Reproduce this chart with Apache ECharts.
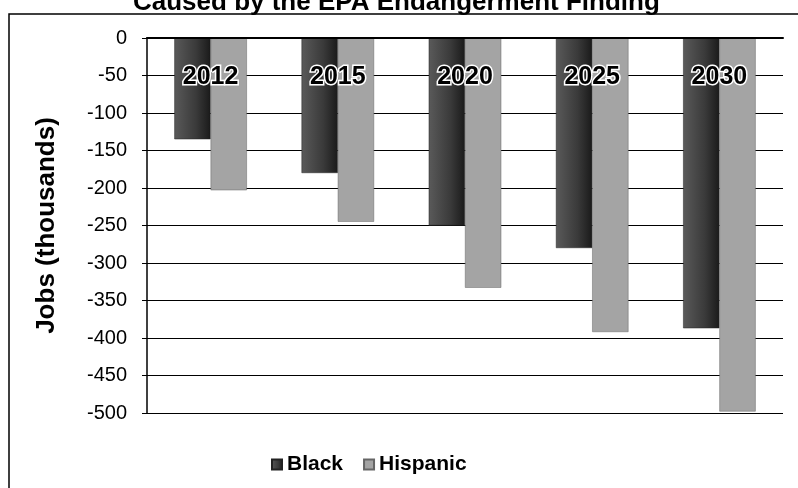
<!DOCTYPE html>
<html>
<head>
<meta charset="utf-8">
<script src="https://cdn.jsdelivr.net/npm/echarts@6/dist/echarts.min.js"></script>
<style>
  html, body { margin: 0; padding: 0; background: #fff; }
  #chart { width: 798px; height: 488px; }
</style>
</head>
<body>
<div id="chart"></div>
<script>
  // values, thousands of jobs
  var years = ['2012', '2015', '2020', '2025', '2030'];
  var black = [-135, -180, -250, -280, -387];
  var hispanic = [-203, -245, -333, -392, -498];

  var myChart = echarts.init(document.getElementById('chart'));
  myChart.setOption({
      backgroundColor: '#fff',
      animation: false,
      title: {
          text: 'Caused by the EPA Endangerment Finding',
          left: 128,
          top: -15,
          textStyle: { fontFamily: 'Liberation Sans, Arial', fontWeight: 'bold', fontSize: 26, color: '#000' }
      },
      graphic: [{
          type: 'rect',
          shape: { x: 9, y: 14, width: 800, height: 490 },
          style: { fill: 'none', stroke: '#000', lineWidth: 1.5 }
      }],
      legend: {
          bottom: 8,
          left: 266,
          itemWidth: 10,
          itemHeight: 10,
          itemGap: 20,
          icon: 'rect',
          textStyle: { fontFamily: 'Liberation Sans, Arial', fontWeight: 'bold', fontSize: 21, color: '#000' },
          data: ['Black', 'Hispanic']
      },
      grid: { left: 147, right: 15, top: 38, bottom: 75 },
      xAxis: {
          type: 'category',
          position: 'top',
          data: years,
          axisLine: { lineStyle: { color: '#000', width: 2 } },
          axisTick: { inside: true, length: 5, lineStyle: { color: '#000' } },
          axisLabel: {
              inside: true,
              margin: 27,
              fontFamily: 'Liberation Sans, Arial',
              fontWeight: 'bold',
              fontSize: 25,
              color: '#000',
              textBorderColor: '#fff',
              textBorderWidth: 3
          },
          z: 10
      },
      yAxis: {
          type: 'value',
          min: -500,
          max: 0,
          interval: 50,
          name: 'Jobs (thousands)',
          nameLocation: 'middle',
          nameGap: 87,
          nameTextStyle: { fontFamily: 'Liberation Sans, Arial', fontWeight: 'bold', fontSize: 26, color: '#000' },
          axisLine: { show: true, lineStyle: { color: '#000', width: 1.5 } },
          axisTick: { show: true, length: 5, lineStyle: { color: '#000' } },
          axisLabel: { fontFamily: 'Liberation Sans, Arial', fontSize: 20, color: '#000', margin: 20 },
          splitLine: { lineStyle: { color: '#000', width: 1 } }
      },
      series: [{
          name: 'Black',
          type: 'bar',
          data: black,
          barGap: 0,
          barCategoryGap: '43%',
          itemStyle: {
              color: new echarts.graphic.LinearGradient(0, 0, 1, 0, [
                  { offset: 0, color: '#5a5a5a' },
                  { offset: 0.6, color: '#3a3a3a' },
                  { offset: 1, color: '#1a1a1a' }
              ]),
              borderColor: '#222',
              borderWidth: 0.5
          }
      }, {
          name: 'Hispanic',
          type: 'bar',
          data: hispanic,
          itemStyle: {
              color: '#a4a4a4',
              borderColor: '#666',
              borderWidth: 0.5
          }
      }]
  });
</script>
</body>
</html>
